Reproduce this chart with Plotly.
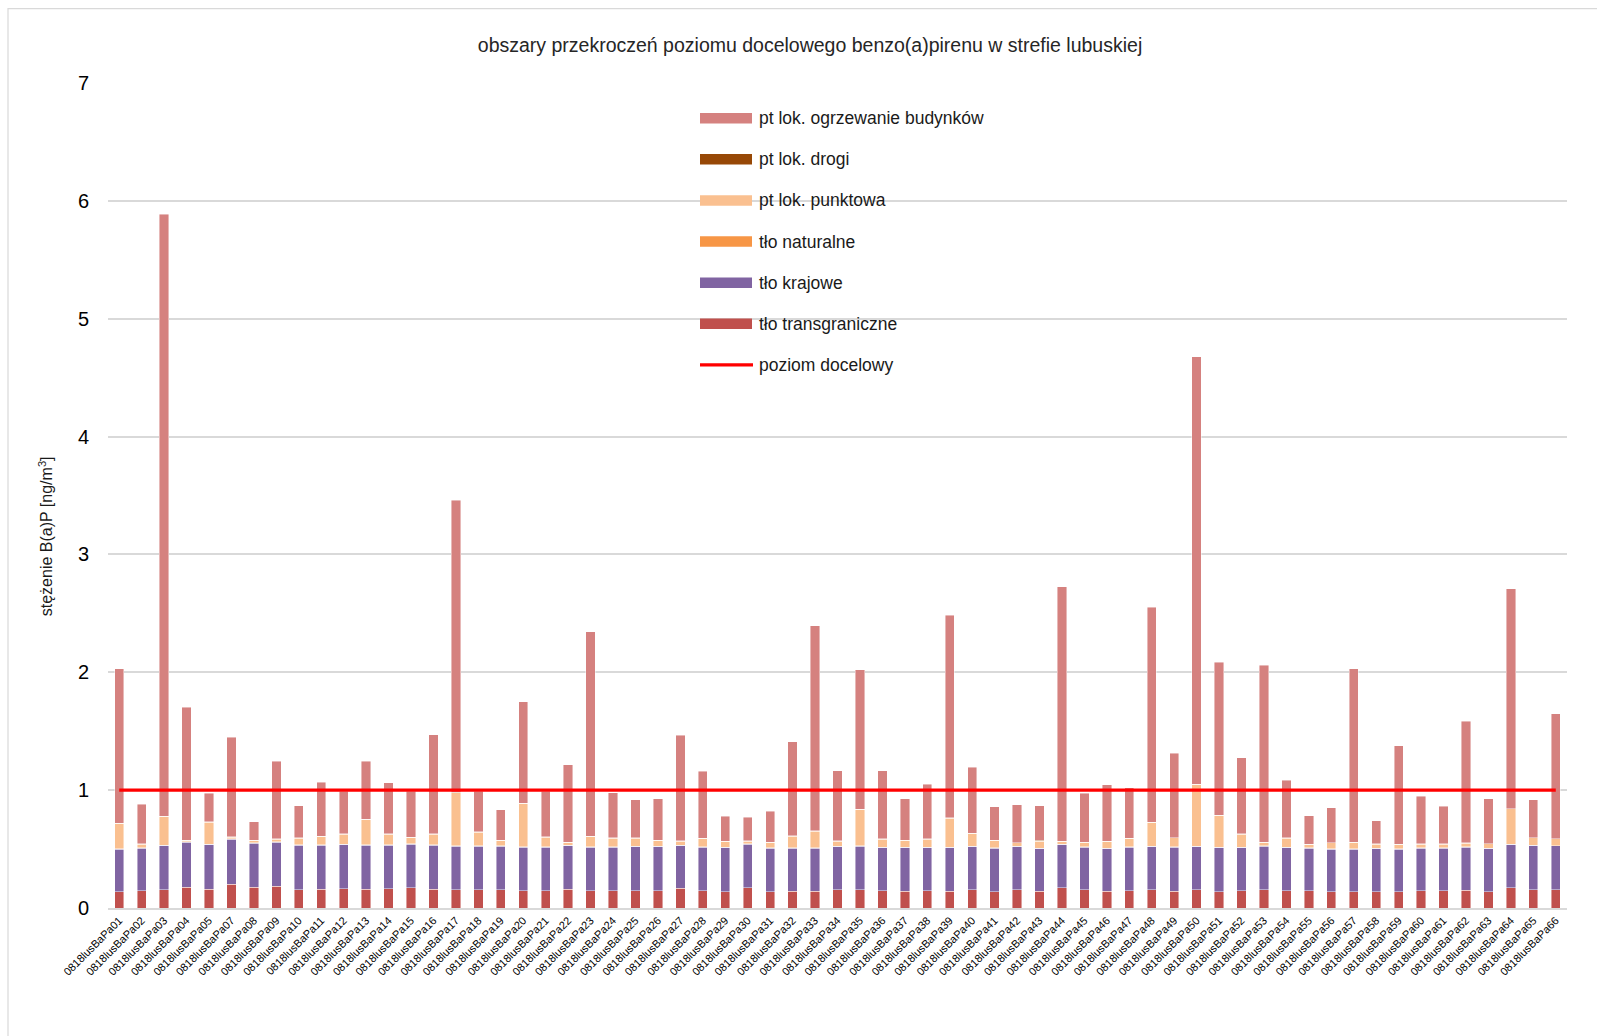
import plotly.graph_objects as go

# Receptor points
stations = ["0818lusBaPa%02d" % n for n in
            [1, 2, 3, 4, 5, 7, 8, 9, 10, 11, 12, 13, 14, 15, 16, 17, 18, 19, 20, 21, 22,
             23, 24, 25, 26, 27, 28, 29, 30, 31, 32, 33, 34, 35, 36, 37, 38, 39, 40, 41,
             42, 43, 44, 45, 46, 47, 48, 49, 50, 51, 52, 53, 54, 55, 56, 57, 58, 59, 60,
             61, 62, 63, 64, 65, 66]]

# Source contributions to B(a)P concentration [ng/m3]
tlo_transgraniczne = [
    0.138, 0.147, 0.155, 0.178, 0.158, 0.203, 0.178, 0.184, 0.155, 0.158, 0.164, 0.158, 0.164,
    0.170, 0.161, 0.155, 0.153, 0.153, 0.147, 0.147, 0.161, 0.147, 0.147, 0.147, 0.147, 0.167,
    0.147, 0.138, 0.172, 0.138, 0.141, 0.141, 0.155, 0.155, 0.147, 0.144, 0.147, 0.141, 0.155,
    0.138, 0.155, 0.141, 0.172, 0.153, 0.141, 0.147, 0.153, 0.144, 0.153, 0.140, 0.147, 0.155,
    0.147, 0.147, 0.138, 0.138, 0.138, 0.138, 0.147, 0.147, 0.150, 0.138, 0.172, 0.155, 0.155]
tlo_krajowe = [
    0.362, 0.362, 0.376, 0.381, 0.382, 0.382, 0.373, 0.375, 0.379, 0.376, 0.376, 0.376, 0.370,
    0.373, 0.373, 0.371, 0.373, 0.373, 0.370, 0.370, 0.370, 0.370, 0.370, 0.376, 0.376, 0.364,
    0.370, 0.376, 0.371, 0.371, 0.368, 0.368, 0.368, 0.371, 0.367, 0.370, 0.367, 0.373, 0.368,
    0.371, 0.368, 0.365, 0.368, 0.364, 0.365, 0.370, 0.370, 0.373, 0.370, 0.374, 0.367, 0.371,
    0.367, 0.362, 0.362, 0.362, 0.368, 0.362, 0.362, 0.362, 0.367, 0.368, 0.368, 0.376, 0.373]
tlo_naturalne = [
    0.002, 0.002, 0.003, 0.002, 0.002, 0.003, 0.002, 0.002, 0.002, 0.002, 0.002, 0.002, 0.002,
    0.002, 0.002, 0.003, 0.002, 0.002, 0.002, 0.002, 0.002, 0.002, 0.002, 0.002, 0.002, 0.002,
    0.002, 0.002, 0.002, 0.002, 0.002, 0.002, 0.002, 0.002, 0.002, 0.002, 0.002, 0.002, 0.002,
    0.002, 0.002, 0.002, 0.002, 0.002, 0.002, 0.002, 0.002, 0.002, 0.003, 0.002, 0.002, 0.002,
    0.002, 0.002, 0.002, 0.002, 0.002, 0.002, 0.002, 0.002, 0.002, 0.002, 0.002, 0.002, 0.002]
pt_punktowa = [
    0.216, 0.032, 0.243, 0.013, 0.187, 0.014, 0.021, 0.024, 0.057, 0.071, 0.085, 0.216, 0.091,
    0.054, 0.091, 0.451, 0.116, 0.048, 0.368, 0.081, 0.024, 0.088, 0.074, 0.068, 0.051, 0.035,
    0.072, 0.049, 0.023, 0.046, 0.099, 0.142, 0.043, 0.308, 0.069, 0.058, 0.069, 0.247, 0.108,
    0.063, 0.029, 0.057, 0.023, 0.040, 0.057, 0.072, 0.201, 0.077, 0.522, 0.269, 0.111, 0.031,
    0.077, 0.029, 0.052, 0.057, 0.035, 0.038, 0.032, 0.032, 0.032, 0.037, 0.300, 0.063, 0.058]
pt_drogi = [
    0.001, 0.001, 0.001, 0.001, 0.001, 0.001, 0.001, 0.001, 0.001, 0.001, 0.001, 0.001, 0.001,
    0.001, 0.001, 0.001, 0.001, 0.001, 0.001, 0.004, 0.001, 0.001, 0.001, 0.001, 0.001, 0.001,
    0.001, 0.001, 0.001, 0.001, 0.001, 0.001, 0.001, 0.001, 0.001, 0.001, 0.001, 0.001, 0.001,
    0.001, 0.001, 0.009, 0.001, 0.001, 0.001, 0.001, 0.001, 0.001, 0.001, 0.001, 0.001, 0.001,
    0.001, 0.001, 0.001, 0.001, 0.001, 0.001, 0.001, 0.001, 0.001, 0.001, 0.001, 0.001, 0.001]
pt_ogrzewanie = [
    1.312, 0.336, 5.107, 1.130, 0.243, 0.845, 0.158, 0.661, 0.274, 0.458, 0.363, 0.494, 0.433,
    0.391, 0.842, 2.477, 0.346, 0.255, 0.862, 0.385, 0.658, 1.736, 0.382, 0.323, 0.351, 0.896,
    0.568, 0.212, 0.203, 0.262, 0.800, 1.742, 0.596, 1.184, 0.579, 0.353, 0.466, 1.718, 0.562,
    0.285, 0.322, 0.293, 2.158, 0.413, 0.480, 0.429, 1.825, 0.715, 3.627, 1.300, 0.647, 1.499,
    0.492, 0.240, 0.294, 1.471, 0.197, 0.836, 0.404, 0.319, 1.031, 0.379, 1.864, 0.320, 1.059]

# Target value for B(a)P
poziom_docelowy = [1.0] * len(stations)

series = [
    ("tło transgraniczne", tlo_transgraniczne, "#C0504D"),
    ("tło krajowe", tlo_krajowe, "#8064A2"),
    ("tło naturalne", tlo_naturalne, "#F79646"),
    ("pt lok. punktowa", pt_punktowa, "#FAC090"),
    ("pt lok. drogi", pt_drogi, "#974806"),
    ("pt lok. ogrzewanie budynków", pt_ogrzewanie, "#D5817F"),
]

W, H = 1597, 1036
L, R, T, B = 108, 30, 82.5, 128
PW, PH = W - L - R, H - T - B


def px(x):
    return (x - L) / PW


def py(y):
    return (H - B - y) / PH


fig = go.Figure()
for name, vals, color in series:
    fig.add_trace(go.Bar(
        x=stations, y=vals, name=name,
        marker=dict(color=color, line=dict(color="rgba(255,255,255,0.55)", width=0.8)),
    ))

fig.add_trace(go.Scatter(
    x=stations, y=poziom_docelowy, name="poziom docelowy", mode="lines",
    line=dict(color="#FF0000", width=3.2),
))

font_family = "Liberation Sans, Arial, sans-serif"

# Legend drawn as swatches and labels inside the plot area
legend_items = [
    ("pt lok. ogrzewanie budynków", "#D5817F", "bar"),
    ("pt lok. drogi", "#974806", "bar"),
    ("pt lok. punktowa", "#FAC090", "bar"),
    ("tło naturalne", "#F79646", "bar"),
    ("tło krajowe", "#8064A2", "bar"),
    ("tło transgraniczne", "#C0504D", "bar"),
    ("poziom docelowy", "#FF0000", "line"),
]
shapes = []
annotations = []
for i, (label, color, kind) in enumerate(legend_items):
    yc = 117.7 + i * 41.15
    if kind == "bar":
        shapes.append(dict(type="rect", xref="paper", yref="paper",
                           x0=px(700), x1=px(752), y0=py(yc + 5.3), y1=py(yc - 5.3),
                           fillcolor=color, line=dict(width=0)))
    else:
        shapes.append(dict(type="line", xref="paper", yref="paper",
                           x0=px(700), x1=px(753), y0=py(yc), y1=py(yc),
                           line=dict(color=color, width=3.2)))
    annotations.append(dict(text=label, xref="paper", yref="paper",
                            x=px(757), y=py(yc), xanchor="left", yanchor="middle",
                            showarrow=False,
                            font=dict(family=font_family, size=17.5, color="#1A1A1A")))

# Outer chart frame
shapes.append(dict(type="rect", xref="paper", yref="paper",
                   x0=px(8), x1=px(1605), y0=py(1045), y1=py(8),
                   line=dict(color="#D9D9D9", width=1.2), fillcolor="rgba(0,0,0,0)",
                   layer="below"))

annotations.append(dict(text="stężenie B(a)P [ng/m<sup>3</sup>]", xref="paper", yref="paper",
                        x=px(46), y=py(536), textangle=-90, showarrow=False,
                        xanchor="center", yanchor="middle",
                        font=dict(family=font_family, size=16, color="#1A1A1A")))

fig.update_layout(
    width=W, height=H,
    margin=dict(l=L, r=R, t=T, b=B, pad=0),
    paper_bgcolor="white", plot_bgcolor="white",
    barmode="stack", bargap=0.585,
    showlegend=False,
    title=dict(text="obszary przekroczeń poziomu docelowego benzo(a)pirenu w strefie lubuskiej",
               x=810 / W, xanchor="center", y=1 - 45 / H, yanchor="middle",
               xref="container", yref="container",
               font=dict(family=font_family, size=19.5, color="#262626")),
    shapes=shapes,
    annotations=annotations,
    xaxis=dict(type="category", tickangle=-45, showgrid=False,
               showline=True, linecolor="#D9D9D9", linewidth=1.6,
               ticks="", tickfont=dict(family=font_family, size=11, color="#000000")),
    yaxis=dict(range=[0, 7], dtick=1, showgrid=True, gridcolor="#D9D9D9", gridwidth=1.5,
               zeroline=False, showline=False, ticks="", ticklabelstandoff=18,
               tickfont=dict(family=font_family, size=20, color="#000000")),
)

fig.write_html("out.html")
